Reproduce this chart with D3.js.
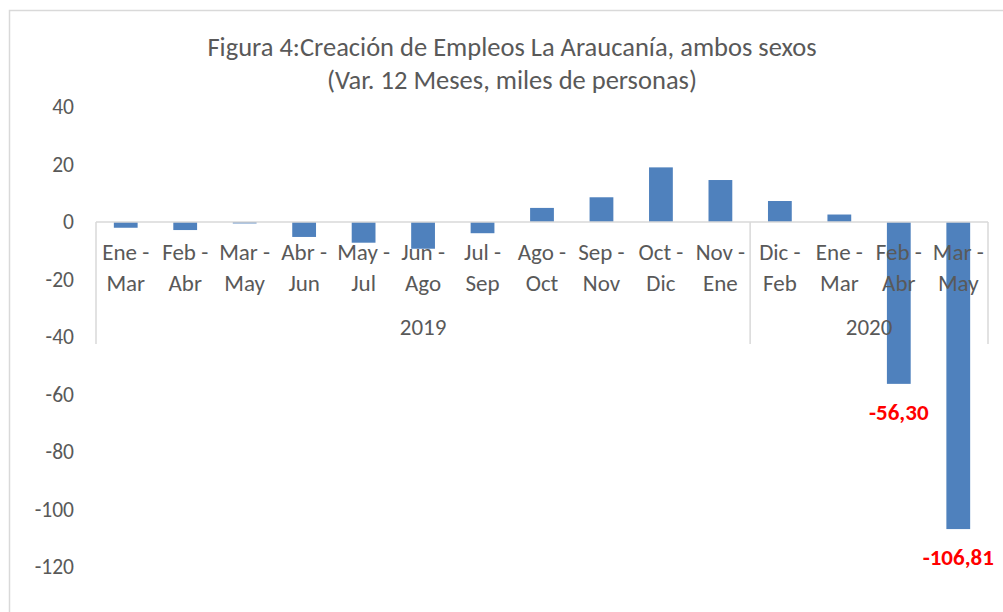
<!DOCTYPE html>
<html>
<head>
<meta charset="utf-8">
<style>
  body { margin: 0; background: #fff; }
  text { font-family: Carlito, Lato, "Liberation Sans", sans-serif; fill: #595959; }
</style>
</head>
<body>
<div id="graphic"></div>
<script src="https://d3js.org/d3.v7.min.js"></script>
<script>
// months at the start and end of each rolling quarter
var fromMonth = ["Ene", "Feb", "Mar", "Abr", "May", "Jun", "Jul", "Ago", "Sep", "Oct", "Nov", "Dic", "Ene", "Feb", "Mar"];
var toMonth = ["Mar", "Abr", "May", "Jun", "Jul", "Ago", "Sep", "Oct", "Nov", "Dic", "Ene", "Feb", "Mar", "Abr", "May"];
// 12 month change, thousands of people
var values = [-2.0, -2.8, -0.5, -5.2, -7.2, -9.3, -3.9, 4.9, 8.6, 19.0, 14.6, 7.3, 2.6, -56.30, -106.81];
// year groups: label and number of quarters in each
var years = ["2019", "2020"];
var yearCounts = [11, 4];
var yTicks = [40, 20, 0, -20, -40, -60, -80, -100, -120];
var labelled = [13, 14]; // bars that carry a data label

var W = 1003, H = 612;

var svg = d3.select("#graphic").append("svg")
    .attr("width", W)
    .attr("height", H);

// chart area border
svg.append("rect")
    .attr("x", 9.5).attr("y", 10.5)
    .attr("width", W + 20).attr("height", H + 20)
    .attr("fill", "#fff")
    .attr("stroke", "#d9d9d9")
    .attr("stroke-width", 1.5);

// title
var title = svg.append("text")
    .attr("text-anchor", "middle")
    .style("font-size", "26.5px");
title.append("tspan").attr("x", 512).attr("y", 56)
    .text("Figura 4:Creación de Empleos La Araucanía, ambos sexos");
title.append("tspan").attr("x", 512).attr("y", 89)
    .text("(Var. 12 Meses, miles de personas)");

var idx = d3.range(values.length);

var x = d3.scaleBand()
    .domain(idx)
    .range([96, 988])
    .paddingInner(0.6)
    .paddingOuter(0.3);

var y = d3.scaleLinear()
    .domain([-120, 40])
    .range([567, 107]);

// y axis labels only
var yAxis = d3.axisLeft(y)
    .tickValues(yTicks)
    .tickSize(0)
    .tickPadding(0)
    .tickFormat(function (d) { return String(d); });
var gy = svg.append("g")
    .attr("transform", "translate(74,0)")
    .call(yAxis);
gy.select(".domain").remove();
gy.selectAll("text")
    .style("font-size", "21.5px")
    .style("font-family", null)
    .attr("fill", "#595959");

// bars
svg.selectAll(".bar")
    .data(idx)
    .enter()
    .append("rect")
    .attr("class", "bar")
    .attr("x", function (i) { return x(i); })
    .attr("width", x.bandwidth())
    .attr("y", function (i) { return y(Math.max(0, values[i])); })
    .attr("height", function (i) { return Math.abs(y(values[i]) - y(0)); })
    .attr("fill", "#4f81bd");

// category axis line and group separators
var axisCol = "#d9d9d9";
var bottom = 344;
svg.append("line")
    .attr("x1", 96).attr("x2", 988)
    .attr("y1", y(0)).attr("y2", y(0))
    .attr("stroke", axisCol).attr("stroke-width", 1.5);

var step = x.step();
var bounds = [0];
yearCounts.forEach(function (c) { bounds.push(bounds[bounds.length - 1] + c); });
bounds.forEach(function (b) {
    var bx = x(0) - x.paddingOuter() * step + b * step;
    svg.append("line")
        .attr("x1", bx).attr("x2", bx)
        .attr("y1", y(0)).attr("y2", bottom)
        .attr("stroke", axisCol).attr("stroke-width", 1.5);
});

// two line category labels
var cat = svg.selectAll(".cat")
    .data(idx)
    .enter()
    .append("text")
    .attr("class", "cat")
    .attr("text-anchor", "middle")
    .style("font-size", "23px");
cat.append("tspan")
    .attr("x", function (i) { return x(i) + x.bandwidth() / 2; })
    .attr("y", 260)
    .text(function (i) { return fromMonth[i] + " -"; });
cat.append("tspan")
    .attr("x", function (i) { return x(i) + x.bandwidth() / 2; })
    .attr("y", 291)
    .text(function (i) { return toMonth[i]; });

// year labels
years.forEach(function (yr, k) {
    var x0 = x(0) - x.paddingOuter() * step + bounds[k] * step;
    var x1 = x(0) - x.paddingOuter() * step + bounds[k + 1] * step;
    svg.append("text")
        .attr("x", (x0 + x1) / 2)
        .attr("y", 335)
        .attr("text-anchor", "middle")
        .style("font-size", "23px")
        .text(yr);
});

// data labels under the two big drops
svg.selectAll(".label")
    .data(labelled)
    .enter()
    .append("text")
    .attr("class", "label")
    .attr("x", function (i) { return x(i) + x.bandwidth() / 2; })
    .attr("y", function (i) { return y(values[i]) + 36; })
    .attr("text-anchor", "middle")
    .style("font-size", "23px")
    .style("font-weight", "bold")
    .style("fill", "#ff0000")
    .text(function (i) { return values[i].toFixed(2).replace(".", ","); });
</script>
</body>
</html>
